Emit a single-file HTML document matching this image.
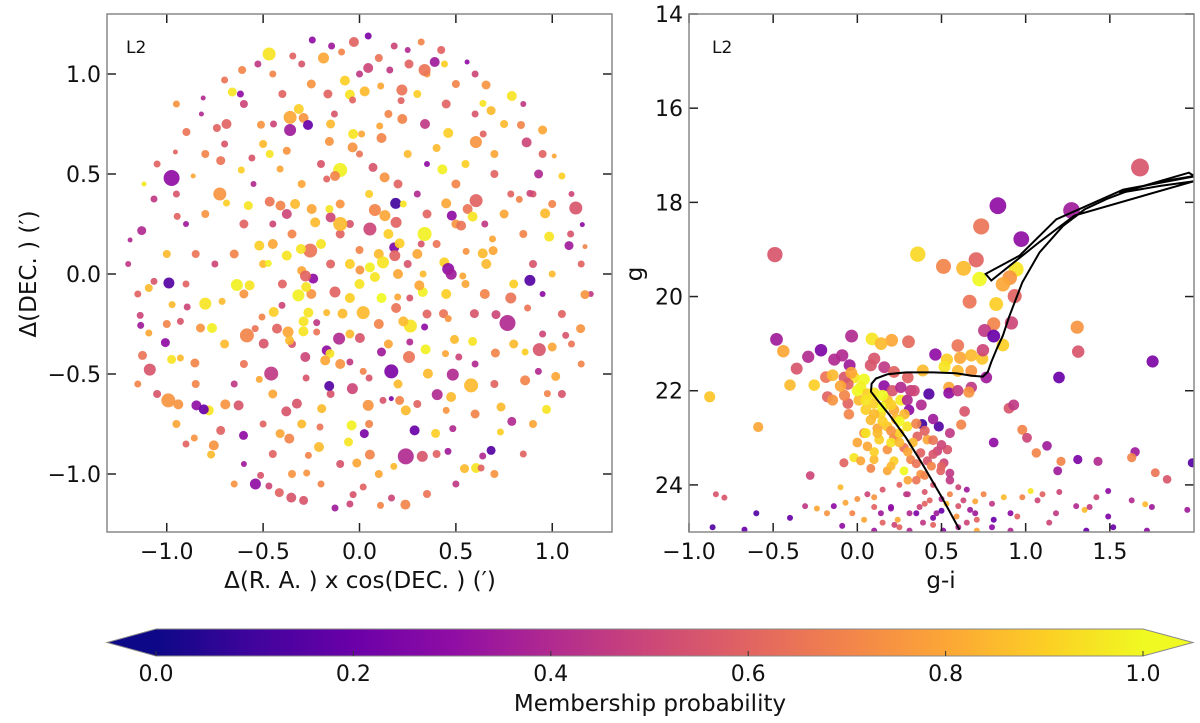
<!DOCTYPE html>
<html><head><meta charset="utf-8">
<style>
html,body{margin:0;padding:0;background:#fff;}
svg{display:block;font-family:"DejaVu Sans","Liberation Sans",sans-serif;}
</style></head>
<body>
<svg id="fig" width="1200" height="723" viewBox="0 0 1200 723" xmlns="http://www.w3.org/2000/svg">
<defs>
<clipPath id="clipL"><rect x="107" y="14" width="505" height="518"/></clipPath>
<clipPath id="clipR"><rect x="689" y="14" width="505" height="518"/></clipPath>
<linearGradient id="plasmaGrad" x1="0" x2="1" y1="0" y2="0">
<stop offset="0" stop-color="#0d0887"/><stop offset="0.1" stop-color="#41049d"/><stop offset="0.2" stop-color="#6a00a8"/><stop offset="0.3" stop-color="#8f0da4"/><stop offset="0.4" stop-color="#b12a90"/><stop offset="0.5" stop-color="#cc4778"/><stop offset="0.6" stop-color="#e16462"/><stop offset="0.7" stop-color="#f2844b"/><stop offset="0.8" stop-color="#fca636"/><stop offset="0.9" stop-color="#fcce25"/><stop offset="1" stop-color="#f0f921"/>
</linearGradient>
</defs>
<g id="leftPanel"></g>
<g id="rightPanel"></g>
<g id="cbar"></g>
</svg>
<script>
// ---------- Left panel data (sky positions) ----------
const raX = [-0.469,-0.245,-0.029,0.045,-0.187,-0.346,-0.093,-0.145,0.18,0.32,0.424,0.39,0.338,0.257,0.441,0.045,0.157,0.558,-0.609,-0.527,-0.70,-0.66,-0.618,-0.811,-0.82,-0.898,-0.955,-0.975,-0.863,-1.066,-1.118,-1.13,-1.19,-0.725,-0.69,-0.946,-0.36,-0.315,-0.29,-0.267,-0.36,-0.69,-0.74,-0.511,-0.446,-0.466,-0.377,-0.558,-0.613,-0.72,-0.412,-0.164,-0.076,-0.05,0.027,0.11,0.22,0.216,-0.036,-0.13,-0.033,-0.036,0.011,0.114,0.105,-0.156,-0.10,-0.127,-0.17,0.07,0.13,0.222,0.34,0.46,0.604,0.642,0.40,0.43,0.657,0.79,0.683,0.64,0.838,0.867,0.95,0.929,1.05,1.01,1.122,0.963,1.087,1.095,1.156,1.17,0.984,0.785,0.829,0.884,0.605,0.561,0.587,0.45,0.479,0.527,0.338,0.32,0.553,0.639,0.69,0.188,0.227,0.08,0.132,0.19,0.054,-0.10,-0.15,-0.156,-0.23,-0.248,-0.334,-0.41,-0.466,-0.377,-0.577,0.18,0.183,0.122,0.208,-0.256,-0.304,-0.377,-0.52,-0.473,0.44,0.46,0.658,0.693,0.33,0.054,0.002,-0.30,
-0.636,-0.57,-0.989,-1.093,-1.066,-0.8,-0.713,-0.765,-0.825,-0.929,-1.093,-1.007,-1.126,-1.088,-0.975,-0.929,-0.854,-0.992,-0.94,-0.846,-0.782,-0.808,-0.584,-0.541,-0.458,-0.72,-0.756,-0.77,-0.857,-0.602,-0.54,-0.47,-0.416,-0.354,-0.29,-0.513,-0.412,-0.364,-0.21,-0.265,-0.274,-0.127,-0.033,0.019,0.109,0.166,0.238,0.24,0.326,0.178,0.054,-0.014,-0.057,0.025,-0.041,-0.205,0.286,0.395,0.24,0.459,0.545,0.605,0.631,0.683,0.639,0.734,0.79,0.731,0.97,1.018,0.975,0.859,0.928,0.579,0.484,0.403,0.475,0.355,0.343,0.257,0.165,0.114,0.045,-0.037,-0.157,-0.17,-0.153,-0.178,-0.106,-0.281,-0.371,-0.363,-0.291,-0.222,-0.317,-0.277,-0.24,-0.28,-0.127,-0.05,0.019,-0.088,-0.17,-0.265,-0.29,-0.222,0.114,0.08,0.198,0.261,0.264,0.227,0.328,0.31,0.19,0.476,0.536,0.884,0.785,0.872,0.768,0.708,0.933,1.0,0.859,1.17,1.147,1.07,0.484,0.45,0.493,0.587,0.705,0.515,0.446,0.261,0.338,0.596,0.436,0.46,0.002,-0.05,0.019,0.05,0.122,0.165,0.208,-0.277,-0.325,-0.38,-0.196,-0.627,-0.696,-0.52,-0.497,-0.428,-0.445,-0.506,-0.402,-0.894,-0.972,-1.135,-1.138];
const decY = [1.10,1.17,1.16,1.19,1.08,1.09,1.11,1.14,1.14,1.16,1.12,1.06,1.02,1.05,1.05,1.03,1.02,1.06,1.02,1.05,0.97,0.91,0.90,0.88,0.80,0.71,0.61,0.48,0.49,0.375,0.45,0.217,0.17,0.40,0.355,0.288,0.783,0.825,0.78,0.745,0.72,0.75,0.73,0.746,0.75,0.60,0.616,0.58,0.52,0.567,0.525,0.90,0.967,0.897,0.913,0.94,0.92,0.867,0.87,0.80,0.70,0.633,0.70,0.68,0.74,0.663,0.52,0.49,0.475,0.533,0.483,0.775,0.75,0.705,0.66,0.70,0.63,0.523,0.945,0.89,0.817,0.853,0.745,0.658,0.72,0.50,0.49,0.59,0.33,0.303,0.142,0.20,0.247,0.137,0.187,0.40,0.373,0.403,0.367,0.325,0.287,0.353,0.292,0.242,0.20,0.15,0.113,0.103,0.175,0.353,0.35,0.32,0.292,0.258,0.225,0.25,0.283,0.325,0.258,0.325,0.35,0.342,0.362,0.30,0.342,0.133,0.092,0.058,0.153,0.117,0.125,0.092,0.142,0.053,0.058,0.025,0.05,0.117,0.0,0.033,0.02,0.017,
-0.055,-0.057,-0.045,-0.07,-0.037,-0.148,-0.137,-0.27,-0.27,-0.237,-0.295,-0.343,-0.407,-0.478,-0.427,-0.42,-0.445,-0.632,-0.652,-0.657,-0.682,-0.677,-0.307,-0.273,-0.498,-0.782,-0.857,-0.903,-0.82,-0.807,-1.05,-1.06,-1.093,-1.118,-1.132,-1.007,-0.798,-0.823,-0.865,-0.907,-0.995,-1.17,-1.103,-1.065,-1.157,-1.12,-1.153,-0.912,-0.912,-0.962,-0.903,-0.945,-0.84,-0.798,-0.757,-0.765,-0.782,-0.797,-0.682,-0.887,-0.973,-0.97,-0.97,-0.882,-0.91,-0.665,-0.737,-0.79,-0.677,-0.512,-0.598,-0.532,-0.487,-0.557,-0.503,-0.603,-0.615,-0.498,-0.377,-0.415,-0.487,-0.39,-0.657,-0.573,-0.56,-0.382,-0.398,-0.432,-0.323,-0.415,-0.29,-0.332,-0.287,-0.29,-0.107,-0.065,-0.023,-0.01,-0.09,-0.12,-0.193,-0.198,-0.193,-0.193,-0.237,-0.243,-0.12,-0.015,-0.115,-0.12,-0.26,-0.237,-0.09,-0.057,-0.17,-0.001,-0.01,-0.032,-0.12,-0.17,-0.245,-0.203,-0.378,-0.365,-0.39,-0.103,-0.273,-0.307,-0.773,-0.682,-0.327,-0.337,-0.395,-0.415,-0.398,-0.34,-0.265,-0.198,-0.198,-0.223,-0.32,-0.44,-0.487,-0.52,-0.632,-0.623,-0.632,-0.52,-0.648,-0.687,-0.673,-0.657,-0.652,-0.527,-0.348,-0.273,-0.19,-0.215,-0.157,-0.165,-0.153,-0.257,-0.207];
const probL = [0.95,0.3,0.6,0.25,0.8,0.6,0.7,0.35,0.5,0.7,0.6,0.35,0.65,0.6,0.9,0.5,0.45,0.3,0.7,0.45,0.65,0.95,0.3,0.4,0.4,0.65,0.6,0.3,0.8,0.45,0.95,0.4,0.4,0.75,0.9,0.6,0.8,0.9,0.75,0.2,0.35,0.6,0.6,0.75,0.5,0.95,0.75,0.55,0.9,0.65,0.8,0.6,0.9,0.95,0.85,0.8,0.65,0.6,0.6,0.55,0.95,0.75,0.8,0.7,0.8,0.75,0.98,0.7,0.6,0.55,0.75,0.7,0.45,0.9,0.75,0.6,0.85,0.98,0.75,0.95,0.85,0.95,0.7,0.5,0.8,0.4,0.9,0.8,0.55,0.85,0.35,0.55,0.3,0.7,0.95,0.6,0.7,0.5,0.6,0.65,0.95,0.8,0.3,0.65,0.98,0.55,0.75,0.85,0.8,0.1,0.95,0.7,0.8,0.6,0.5,0.85,0.5,0.95,0.85,0.8,0.85,0.7,0.65,0.5,0.95,0.25,0.6,0.95,0.9,0.65,0.95,0.95,0.9,0.98,0.9,0.3,0.85,0.8,0.85,0.98,0.75,0.8,
0.98,0.95,0.15,0.85,0.55,0.95,0.85,0.98,0.75,0.55,0.8,0.3,0.65,0.55,0.95,0.85,0.7,0.75,0.75,0.3,0.95,0.2,0.7,0.65,0.45,0.6,0.75,0.85,0.75,0.3,0.3,0.5,0.6,0.55,0.55,0.55,0.8,0.7,0.85,0.7,0.75,0.35,0.55,0.6,0.7,0.5,0.7,0.4,0.55,0.85,0.7,0.8,0.95,0.25,0.98,0.65,0.2,0.9,0.85,0.35,0.85,0.95,0.6,0.15,0.4,0.85,0.4,0.9,0.95,0.8,0.7,0.7,0.4,0.85,0.4,0.4,0.85,0.85,0.98,0.65,0.25,0.35,0.75,0.5,0.15,0.3,0.95,0.8,0.4,0.5,0.8,0.85,0.95,0.65,0.98,0.95,0.3,0.6,0.6,0.9,0.85,0.85,0.85,0.95,0.95,0.45,1.0,0.95,0.8,0.55,0.95,0.85,0.98,0.8,0.65,0.35,0.8,0.15,0.65,0.65,0.4,0.5,0.55,0.8,0.9,0.75,0.75,0.55,0.4,0.75,0.85,0.95,0.7,0.5,0.8,0.4,0.3,0.55,0.65,0.75,0.55,0.45,0.7,0.55,0.55,0.25,0.7,0.55,0.55,0.55,0.85,0.55,0.75,0.8,0.55,0.6,0.9,0.7,0.5,0.5,0.85,0.35,0.5];
const sizeL = [6.5,3.5,5,3.5,5.5,3.5,3.5,3.5,3.5,3.5,4,5,6,4.5,3.5,5,3.5,2.5,4,3.5,3.5,4.5,3.5,2.5,2.5,4,2.5,8,2.5,3.5,2.5,4.5,2.5,6.5,3.5,3.5,6.5,5,5,5,6,5,4,4,3.5,4,4,3.5,3.5,4.5,3.5,4.5,5,5,5,3.5,5.5,3.5,3.5,3.5,5,5,3.5,5,3.5,4.5,7,5,3.5,4.5,5,5,5,5,6,3.5,4,5,4.5,5,4.5,3.5,4,5,4.5,4.5,3.5,2.5,6.5,5,4.5,3.5,2.5,2.5,5,3.5,3.5,3.5,6.5,5,5,5,5,5,7,3.5,3.5,5,3.5,5.5,3.5,6,5.5,5.5,6.5,7,5,4,5,5,5,5,5,5,4.5,5,5.5,6,5,7,5,5,5,3.5,5,6,5,4.5,3.5,5,4.5,4.5,
6,5,5.5,4,3.5,6,3.5,5,4.5,3.5,3.5,4.5,4.5,6,4.5,3.5,4.5,7,5,5,5,5,7,3.5,7,4.5,5,4,3.5,4.5,5.5,3.5,4.5,5,4.5,3.5,4.5,5,5,3.5,3.5,3.5,3.5,3.5,3.5,3.5,5,8,5.5,3.5,5,4.5,4.5,4.5,5,3.5,5,4.5,5,3.5,4.5,5,3.5,4.5,3.5,4.5,4.5,3.5,4.5,4.5,3.5,5,3.5,7,6,5.5,5,5,5,6,7,4.5,5.5,5.5,5,5,4.5,5,6,5,5.5,4.5,5,3.5,6,5,5,5.5,5.5,5,6.5,5,3.5,5,5,3.5,5,5,3.5,3.5,6.5,5,5,5,5,5.5,3.5,5.5,5.5,3.5,8,4.5,6.5,4.5,3.5,4.5,4.5,3.5,3.5,3.5,4.5,4.5,4.5,3.5,3.5,3.5,3.5,4.5,4.5,3.5,5,3.5,3.5,3.5,3.5,2.5,4.5,3.5,5,5,4.5,5,5,3.5,5,5,5,3.5,3.5,3.5,3.5,3.5,3.5];
// second batch of fainter / filler stars
const raXb = [-0.05,0.0,0.1,-0.15,-0.2,0.25,0.3,0.4,-0.35,-0.45,-0.1,0.05,0.2,0.3,-0.3,-0.2,0.0,0.25,0.35,0.5,0.55,0.7,0.75,0.65,0.85,0.9,1.0,1.05,0.95,0.8,0.65,0.55,0.35,0.1,-0.05,-0.25,-0.4,-0.5,-0.65,-0.75,-0.85,-0.9,-0.8,-0.6,-0.55,-0.8,-0.7,-0.5,-0.4,-0.25,-0.3,0.1,0.25,0.5,0.6,0.75,0.85,0.95,1.0,1.1,1.15,1.2,1.15,1.05,0.9,0.85,0.7,0.5,0.35,0.1,-0.1,-0.2,-0.45,-0.6,-0.65,-0.9,-0.95,-1.05,-1.15,-1.15,-1.2,-1.0,-1.05,-0.95,-0.6,-0.15,0.15,0.45,0.3,0.6,-0.1,0.2,0.3,0.05,-0.3,-0.15,-0.45,-0.6,-0.7,-0.65,-0.85,-0.5,0.6,0.7,0.8,0.6,0.45,0.2,-0.1,0.0,-0.35,0.15,0.5,0.35,0.15,-0.05,-0.45,-0.6,-0.9,-1.0,-0.95,-0.45,0.0,0.35,0.7,0.9,1.1,0.95,0.4,-0.35,-0.05];
const decYb = [0.05,0.12,0.1,0.05,0.15,0.05,0.1,0.15,0.2,0.25,0.35,0.4,0.45,0.4,0.45,0.55,0.6,0.6,0.55,0.45,0.55,0.5,0.3,0.25,0.2,0.05,0.0,-0.2,-0.1,-0.05,-0.1,-0.05,-0.2,-0.25,-0.3,-0.1,-0.05,0.05,0.1,0.05,0.1,0.25,0.3,0.25,0.45,0.6,0.65,0.65,0.9,0.95,1.05,1.08,1.12,0.95,1.0,0.75,0.85,0.6,0.35,0.4,0.05,-0.1,-0.45,-0.6,-0.75,-0.9,-1.0,-1.05,-1.1,-1.0,-0.95,-1.05,-0.9,-0.95,-1.05,-0.85,-0.75,-0.6,-0.55,-0.1,0.05,0.1,0.55,0.85,0.85,0.75,0.8,0.85,0.9,0.8,-0.45,-0.55,-0.65,-0.75,-0.75,-0.6,-0.6,-0.45,-0.35,-0.55,-0.55,-0.75,-0.7,-0.55,-0.35,-0.45,-0.1,0.0,0.2,-0.05,-0.35,-0.35,0.25,0.3,0.2,0.25,0.15,-0.1,-0.05,-0.25,0.4,1.0,1.0,1.0,0.6,0.4,-0.35,-0.3,-0.9,-1.0,-1.15];
const probLb = [0.9,0.7,0.85,0.6,0.95,0.55,0.8,0.65,0.7,0.5,0.75,0.9,0.6,0.4,0.8,0.55,0.65,0.85,0.3,0.7,0.9,0.6,0.8,0.45,0.7,0.55,0.85,0.6,0.3,0.9,0.7,0.8,0.6,0.7,0.85,0.75,0.6,0.85,0.7,0.5,0.65,0.35,0.75,0.6,0.4,0.7,0.55,0.85,0.6,0.75,0.55,0.65,0.4,0.7,0.5,0.85,0.45,0.6,0.7,0.5,0.6,0.45,0.7,0.55,0.8,0.6,0.75,0.45,0.65,0.8,0.55,0.7,0.6,0.35,0.75,0.6,0.8,0.55,0.7,0.6,0.45,0.85,0.6,0.75,0.5,0.85,0.7,0.6,0.9,0.55,0.75,0.85,0.6,0.7,0.85,0.55,0.8,0.65,0.85,0.45,0.7,0.6,0.7,0.6,0.85,0.4,0.9,0.8,0.6,0.95,0.55,0.8,0.75,0.6,0.9,0.55,0.8,0.75,0.6,0.7,0.55,0.7,0.45,0.75,0.8,0.55,0.65,0.5,0.6,0.75,0.5];
const sizeLb = [5,4,5,4.5,5,4,5,4,4.5,3.5,4.5,4,4.5,3.5,4,4,3.5,4,3,4.5,4,4,4.5,3.5,4,4,3.5,4,3,4.5,5,4,4.5,5,4.5,5,4.5,4,4.5,3.5,4,3,4,4.5,3,4,3.5,4,4,4.5,3.5,4,3,4,3.5,4,3,4,4,3,3.5,3,3.5,4,4,3.5,4,3.5,4,4,4,3.5,4,3,3.5,3.5,4,4,3.5,3.5,3,4,3.5,3.5,4,4.5,4,4.5,4,3.5,5,4.5,4,4,4.5,4,4.5,4,4.5,3.5,4,3.5,4.5,4,4.5,3.5,5,5,4.5,5,4,4.5,4.5,4.5,5,4,5,4.5,3.5,4,3.5,3.5,3.5,3.5,4,3.5,3.5,3.5,4,4,3.5];
const xTicksL = [-1.0,-0.5,0.0,0.5,1.0];
const yTicksL = [-1.0,-0.5,0.0,0.5,1.0];

// ---------- Right panel data (CMD) ----------
const colGI = [1.679,0.835,1.272,0.736,0.974,-0.49,0.359,0.512,0.631,0.706,0.726,0.944,0.905,0.865,0.935,0.667,0.825,0.81,0.915,0.756,0.81,0.865,1.306,1.312,1.754,1.198,-0.48,-0.44,-0.877,-0.589,-0.034,0.087,0.204,0.304,0.141,-0.216,-0.292,-0.137,-0.09,-0.046,-0.36,-0.40,-0.256,-0.187,-0.147,-0.177,-0.147,0.464,0.532,0.597,0.611,0.677,0.742,0.746,0.518,0.597,0.677,0.766,0.389,0.30,0.544,0.677,0.544,0.663,0.425,0.597,0.901,0.929,0.637,0.617,0.385,0.484,0.98,1.008,0.81,1.127,1.063,1.65,1.99,
-0.02,0.04,0.02,0.06,0.01,0.099,0.178,0.139,0.218,0.258,0.08,0.178,0.297,0.04,0.13,0.218,0.357,0.416,0.06,0.178,0.277,0.376,0.476,0.535,0.099,0.218,0.317,0.416,0.515,0.277,0.376,0.495,0.178,-0.02,-0.08,0.02,0.297,0.317,0.307,-0.056,-0.076,-0.056,-0.076,-0.036,0.08,0.1,0.16,0.218,0.159,0.208,0.258,0.337,0.1,0.15,0.23,0.25,0.33,0.12,0.2,0.44,0.35,0.45,0.25,0.55,0.05,0.0,
-0.79,-0.86,-0.67,-0.4,-0.28,-0.31,-0.24,-0.18,-0.14,-0.1,-0.07,-0.09,-0.03,0.04,0.06,0.1,0.1,0.14,0.2,0.24,0.29,0.31,0.37,0.39,0.43,0.47,0.53,0.59,0.63,0.67,0.71,0.75,0.80,0.81,0.87,0.91,0.95,0.98,1.03,1.07,1.1,1.14,1.18,1.21,1.19,1.2,1.31,1.3,1.35,1.38,1.43,1.42,1.49,1.49,1.63,1.63,1.71,1.75,1.77,1.84,1.96,1.52,1.72,1.36,0.91,0.71,0.51,0.31,0.1,-0.6,-0.84,0.22,0.35,0.45,0.6,0.55,0.4,0.65,0.7,0.15,0.5,
0.05,0.1,0.15,0.2,0.25,0.3,0.35,0.4,0.45,0.5,0.55,0.6,0.3,0.2,0.1,0.0,0.05,0.15,0.2,0.28,0.35,0.4,0.45,0.5,0.25,0.12,0.08,0.15,0.3,0.4,0.5,0.6,0.7,0.0,0.2,0.45,0.65,0.8,0.25,-0.05,-0.1,0.38,0.45,0.55];
const magG = [17.26,18.07,18.17,18.51,18.78,19.11,19.10,19.36,19.40,19.22,19.63,19.42,19.60,19.74,19.99,20.11,20.16,20.58,20.56,20.72,20.84,21.03,20.65,21.17,21.38,21.72,20.91,21.16,22.13,22.77,20.84,20.90,20.93,20.96,21.0,21.14,21.28,21.34,21.25,21.46,21.53,21.88,21.88,21.71,21.67,22.13,22.20,21.23,21.34,21.04,21.30,21.25,21.32,21.14,21.49,21.58,21.58,21.72,21.57,21.72,21.93,21.93,22.05,22.03,22.07,22.0,22.37,22.30,22.44,22.72,22.71,22.76,22.83,23.0,23.10,23.17,23.32,23.30,23.53,
21.72,21.76,21.93,22.07,22.2,22.27,22.2,22.48,22.41,22.2,22.62,22.76,22.76,22.9,23.04,23.0,22.97,23.04,23.18,23.25,23.21,23.32,23.28,23.25,23.46,23.49,23.46,23.49,23.53,23.7,23.77,23.70,23.70,23.42,23.53,23.49,22.2,22.0,22.41,22.27,22.1,21.86,21.72,21.62,21.46,21.32,21.5,21.6,21.9,22.0,21.93,22.0,22.05,22.35,22.6,22.9,23.1,22.8,23.1,23.6,23.9,24.0,24.0,23.9,22.4,22.0,
24.27,24.9,24.95,24.7,23.8,24.45,24.5,24.6,24.45,24.05,24.38,24.87,24.6,24.74,24.2,24.47,24.26,24.6,24.47,24.74,24.2,24.6,24.47,24.8,24.33,24.6,24.4,24.67,24.33,24.53,24.74,24.2,24.4,24.74,24.26,24.6,24.67,24.26,24.13,24.33,24.2,24.8,24.6,23.5,23.7,24.15,23.46,24.45,24.53,24.47,23.5,24.26,24.13,24.67,24.33,23.42,24.41,24.47,23.74,23.88,24.53,24.9,24.97,24.97,24.97,24.97,24.97,24.97,24.97,24.6,24.2,24.85,24.6,24.85,24.9,24.2,24.15,24.1,24.35,24.8,24.55,
22.2,22.5,22.65,22.85,23.1,23.3,23.55,23.8,23.35,23.6,23.75,24.05,23.9,23.6,23.3,23.1,22.9,22.1,22.3,22.5,22.7,22.85,23.05,23.15,22.65,22.9,23.65,24.1,24.2,24.4,24.3,24.45,24.6,24.3,24.5,24.7,24.8,24.9,24.9,22.5,21.9,22.3,22.6,22.9];
const probR = [0.55,0.3,0.35,0.65,0.3,0.55,0.92,0.7,0.85,0.6,1.0,0.95,0.75,0.8,0.6,0.65,0.9,0.7,0.5,0.45,0.2,0.9,0.75,0.55,0.25,0.2,0.35,0.8,0.88,0.8,0.4,0.95,0.8,0.62,0.85,0.25,0.4,0.4,0.4,0.35,0.55,0.85,0.9,0.65,0.85,0.6,0.75,0.3,0.9,0.65,0.8,0.85,0.88,0.5,0.95,0.85,0.75,0.35,0.85,0.6,0.8,0.45,0.3,0.75,0.15,0.45,0.55,0.45,0.55,0.7,0.1,0.15,0.7,0.5,0.3,0.35,0.7,0.35,0.15,
0.95,1.0,0.98,0.9,0.85,0.9,0.85,0.92,0.8,0.97,0.85,0.88,0.95,0.75,0.9,0.7,0.6,0.8,0.8,0.75,0.65,0.6,0.5,0.55,0.85,0.9,0.7,0.55,0.5,1.0,0.75,0.6,0.8,0.95,0.6,0.8,0.4,0.45,0.3,0.6,0.7,0.6,0.55,0.8,0.55,0.55,0.45,0.6,0.3,0.55,0.4,0.5,0.95,1.0,0.85,0.9,0.85,0.8,0.95,0.7,0.65,0.55,0.6,0.45,0.9,1.0,
0.55,0.15,0.2,0.2,0.5,0.45,0.8,0.75,0.3,0.85,0.8,0.3,0.7,0.8,0.5,0.6,0.75,0.35,0.3,0.8,0.45,0.4,0.5,0.45,0.6,0.35,0.85,0.75,0.5,0.35,0.6,0.7,0.45,0.2,0.85,0.3,0.6,0.7,0.95,0.5,0.6,0.5,0.45,0.7,0.35,0.5,0.25,0.4,0.85,0.45,0.4,0.5,0.3,0.25,0.4,0.7,0.85,0.35,0.65,0.55,0.35,0.2,0.3,0.2,0.4,0.8,0.3,0.4,0.35,0.15,0.55,0.5,0.25,0.6,0.4,0.7,0.55,0.35,0.8,0.6,0.2,
0.95,0.85,0.9,0.75,0.85,0.8,0.65,0.7,0.55,0.6,0.45,0.5,0.8,0.85,0.9,0.8,0.95,1.0,0.9,0.85,0.7,0.6,0.65,0.5,1.0,0.85,0.7,0.55,0.45,0.6,0.4,0.55,0.35,0.75,0.3,0.25,0.5,0.3,0.6,0.7,0.8,0.4,0.35,0.45];
const isoColor = [0.607,0.5,0.389,0.29,0.19,0.12,0.081,0.085,0.111,0.18,0.29,0.45,0.587,0.68,0.746,0.775,0.796,0.83,0.865,0.90,0.935,0.98,1.083,1.222,1.35,1.48,1.65,1.817,2.0];
const isoMag = [24.95,24.25,23.57,23.0,22.51,22.2,22.02,21.85,21.74,21.65,21.61,21.61,21.63,21.68,21.70,21.6,21.39,21.1,20.83,20.45,20.12,19.7,19.06,18.50,18.15,17.93,17.7,17.55,17.44];
const loopColor = [2.0,1.97,1.556,1.8,2.0,1.29,1.083,0.796,0.762,0.964,1.182,1.58,2.0];
const loopMag = [17.44,17.37,17.80,17.65,17.55,18.28,18.84,19.66,19.52,19.13,18.36,17.73,17.45];
const xTicksR = [-1.0,-0.5,0.0,0.5,1.0,1.5];
const yTicksR = [14,16,18,20,22,24];
const cbTicks = [0.0,0.2,0.4,0.6,0.8,1.0];

// ---------- helpers ----------
const NS = 'http://www.w3.org/2000/svg';
const stops = [[13,8,135],[65,4,157],[106,0,168],[143,13,164],[177,42,144],[204,71,120],[225,100,98],[242,132,75],[252,166,54],[252,206,37],[240,249,33]];
function plasma(v){v=Math.max(0,Math.min(1,v));const f=v*10,i=Math.min(9,Math.floor(f)),t=f-i;const a=stops[i],b=stops[i+1];return 'rgb('+a.map((c,k)=>Math.round(c+(b[k]-c)*t)).join(',')+')';}
function mk(tag, attrs, parent){const e=document.createElementNS(NS,tag);for(const k in attrs)e.setAttribute(k,attrs[k]);parent.appendChild(e);return e;}
function lin(d0,d1,r0,r1){return v=>r0+(v-d0)/(d1-d0)*(r1-r0);}
function fmt(v){return (v<0?'\u2212':'')+Math.abs(v).toFixed(1);}

function axesFrame(g,x0,y0,x1,y1,sx,sy,xt,yt,yfmt){
  xt.forEach(v=>{const X=sx(v);
    const t1=mk('line',{x1:X,x2:X,y1:y1,y2:y1-9,stroke:'#222','stroke-width':1.5},g);
    
    
    mk('line',{x1:X,x2:X,y1:y0,y2:y0+9,stroke:'#222','stroke-width':1.5},g);
    const tl=mk('text',{x:X,y:y1+27,'font-size':22,'text-anchor':'middle',fill:'#111'},g);
    tl.textContent=fmt(v);
    
    
  });
  yt.forEach(v=>{const Y=sy(v);
    mk('line',{x1:x0,x2:x0+9,y1:Y,y2:Y,stroke:'#222','stroke-width':1.5},g);
    mk('line',{x1:x1,x2:x1-9,y1:Y,y2:Y,stroke:'#222','stroke-width':1.5},g);
    const tl=mk('text',{x:x0-6,y:Y+8,'font-size':22,'text-anchor':'end',fill:'#111'},g);
    tl.textContent=yfmt(v);
    
    
  });
  const fr=mk('rect',{x:x0,y:y0,width:x1-x0,height:y1-y0,fill:'none',stroke:'#888','stroke-width':1.5},g);
  
  
}

// ---------- left panel ----------
(function(){
  const g=document.getElementById('leftPanel');
  const sx=lin(-1.31,1.31,107,612), sy=lin(-1.29,1.30,532,14);
  const pts=mk('g',{'clip-path':'url(#clipL)'},g);
  
  
  const X=raXb.concat(raX), Y=decYb.concat(decY), P=probLb.concat(probL), S=sizeLb.concat(sizeL);
  for(let i=0;i<X.length;i++){
    const c=mk('circle',{cx:sx(X[i]).toFixed(1),cy:sy(Y[i]).toFixed(1),r:S[i],fill:plasma(P[i]),'fill-opacity':0.92},pts);
    
    
  }
  axesFrame(g,107,14,612,532,sx,sy,xTicksL,yTicksL,fmt);
  const lab=mk('text',{x:126,y:53,'font-size':17,fill:'#111'},g); lab.textContent='L2';
  
  
  const xl=mk('text',{x:360,y:588,'font-size':23,'text-anchor':'middle',fill:'#111'},g); xl.textContent='\u0394(R. A. ) x cos(DEC. ) (\u2032)';
  
  
  const yl=mk('text',{x:0,y:0,'font-size':23,'text-anchor':'middle',fill:'#111',transform:'translate(36,274) rotate(-90)'},g); yl.textContent='\u0394(DEC. ) (\u2032)';
  
  
})();

// ---------- right panel ----------
(function(){
  const g=document.getElementById('rightPanel');
  const sx=lin(-1.0,2.0,689,1194), sy=lin(14,25,14,532);
  const pts=mk('g',{'clip-path':'url(#clipR)'},g);
  
  
  for(let i=0;i<colGI.length;i++){
    const r = magG[i] < 24 ? Math.max(3.2, 9 - (magG[i]-17.2)*0.7) : 3;
    const c=mk('circle',{cx:sx(colGI[i]).toFixed(1),cy:sy(magG[i]).toFixed(1),r:r.toFixed(2),fill:plasma(probR[i]),'fill-opacity':0.92},pts);
    
    
  }
  const iso=mk('polyline',{points:isoColor.map((v,i)=>sx(v).toFixed(1)+','+sy(isoMag[i]).toFixed(1)).join(' '),fill:'none',stroke:'#000','stroke-width':2,'clip-path':'url(#clipR)'},g);
  
  
  const loop=mk('polyline',{points:loopColor.map((v,i)=>sx(v).toFixed(1)+','+sy(loopMag[i]).toFixed(1)).join(' '),fill:'none',stroke:'#000','stroke-width':2,'clip-path':'url(#clipR)'},g);
  
  
  axesFrame(g,689,14,1194,532,sx,sy,xTicksR,yTicksR,v=>String(v));
  const lab=mk('text',{x:712,y:53,'font-size':17,fill:'#111'},g); lab.textContent='L2';
  
  
  const xl=mk('text',{x:941,y:588,'font-size':23,'text-anchor':'middle',fill:'#111'},g); xl.textContent='g-i';
  
  
  const yl=mk('text',{x:0,y:0,'font-size':23,'text-anchor':'middle',fill:'#111',transform:'translate(642,274) rotate(-90)'},g); yl.textContent='g';
  
  
})();

// ---------- colorbar ----------
(function(){
  const g=document.getElementById('cbar');
  const x0=156,x1=1143,y0=629,y1=656;
  const cx=lin(0,1,x0,x1);
  const lt=mk('polygon',{points:`${x0},${y0} 107,${(y0+y1)/2} ${x0},${y1}`,fill:plasma(0)},g);
  
  
  const rt=mk('polygon',{points:`${x1},${y0} 1193,${(y0+y1)/2} ${x1},${y1}`,fill:plasma(1)},g);
  
  
  const bar=mk('rect',{x:x0,y:y0,width:x1-x0,height:y1-y0,fill:'url(#plasmaGrad)'},g);
  
  
  mk('polygon',{points:`107,${(y0+y1)/2} ${x0},${y0} ${x1},${y0} 1193,${(y0+y1)/2} ${x1},${y1} ${x0},${y1}`,fill:'none',stroke:'#888','stroke-width':1},g);
  cbTicks.forEach(v=>{const X=cx(v);
    mk('line',{x1:X,x2:X,y1:y1,y2:y1-5,stroke:'#333','stroke-width':1},g);
    const t=mk('text',{x:X,y:681,'font-size':22,'text-anchor':'middle',fill:'#111'},g); t.textContent=v.toFixed(1);
    
    
  });
  const lab=mk('text',{x:650,y:711,'font-size':23,'text-anchor':'middle',fill:'#111'},g); lab.textContent='Membership probability';
  
  
})();
</script>
</body></html>
